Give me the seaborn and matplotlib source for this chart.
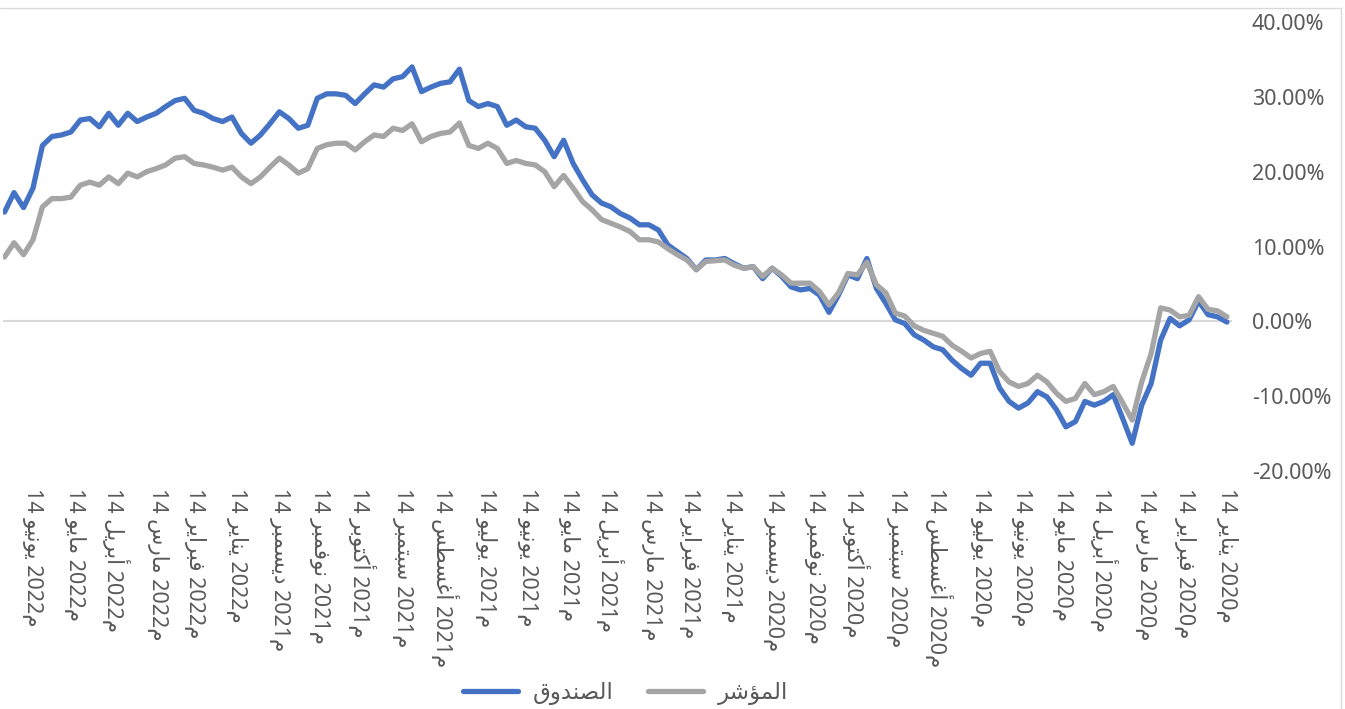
import matplotlib
matplotlib.use('Agg')
import matplotlib.pyplot as plt
from matplotlib.lines import Line2D
from matplotlib.ticker import FuncFormatter
import seaborn as sns
import pandas as pd

# weekly cumulative return (%), oldest first: 14 Jan 2020 -> early Jul 2022
fund = [-0.1, 0.6, 0.9, 2.7, 0.2, -0.6, 0.4, -2.5, -8.3, -11.2,
        -16.3, -13.0, -9.8, -10.7, -11.2, -10.7, -13.4, -14.1, -11.8, -10.1,
        -9.4, -10.9, -11.6, -10.7, -8.9, -5.6, -5.6, -7.2, -6.3, -5.2,
        -3.8, -3.4, -2.5, -1.8, -0.3, 0.2, 2.4, 4.4, 8.4, 5.7,
        6.2, 3.5, 1.2, 3.5, 4.4, 4.2, 4.6, 6.0, 7.1, 5.7,
        7.3, 7.1, 7.7, 8.4, 8.2, 8.2, 6.9, 8.4, 9.3, 10.2,
        12.2, 12.9, 12.9, 13.8, 14.4, 15.3, 15.8, 16.9, 18.9, 21.1,
        24.2, 22.0, 24.2, 25.8, 26.0, 26.9, 26.2, 28.7, 29.1, 28.7,
        29.5, 33.7, 32.0, 31.8, 31.3, 30.7, 34.0, 32.7, 32.4, 31.3,
        31.6, 30.4, 29.1, 30.2, 30.4, 30.4, 29.8, 26.2, 25.8, 27.1,
        28.0, 26.4, 24.9, 23.8, 25.1, 27.3, 26.7, 27.1, 27.8, 28.2,
        29.8, 29.5, 28.7, 27.8, 27.3, 26.7, 27.8, 26.2, 27.8, 26.0,
        27.1, 26.9, 25.3, 24.9, 24.7, 23.5, 17.8, 15.2, 17.2, 14.6]

index = [0.6, 1.4, 1.6, 3.3, 0.8, 0.6, 1.5, 1.8, -4.3, -8.1,
         -13.2, -10.9, -8.7, -9.4, -9.8, -8.3, -10.3, -10.7, -9.6, -8.1,
         -7.2, -8.3, -8.7, -8.1, -6.7, -4.0, -4.3, -4.9, -4.0, -3.2,
         -2.0, -1.6, -1.2, -0.6, 0.7, 1.1, 3.8, 4.9, 7.9, 6.2,
         6.4, 3.8, 2.2, 4.0, 5.1, 5.1, 5.1, 6.2, 7.1, 6.0,
         7.3, 7.1, 7.5, 8.2, 8.1, 8.0, 6.9, 8.2, 8.9, 9.7,
         10.6, 10.9, 10.9, 12.0, 12.6, 13.1, 13.6, 14.9, 16.0, 17.8,
         19.5, 18.0, 20.0, 20.9, 21.1, 21.5, 21.1, 23.1, 23.8, 23.1,
         23.5, 26.5, 25.3, 25.1, 24.7, 24.0, 26.4, 25.5, 25.8, 24.7,
         24.9, 24.0, 22.9, 23.8, 23.8, 23.6, 23.1, 20.4, 19.8, 20.9,
         21.8, 20.6, 19.3, 18.4, 19.3, 20.6, 20.2, 20.6, 20.9, 21.1,
         22.0, 21.8, 20.9, 20.4, 20.0, 19.3, 19.8, 18.4, 19.3, 18.2,
         18.6, 18.2, 16.6, 16.4, 16.4, 15.3, 10.9, 8.9, 10.5, 8.6]

series_names = ['الصندوق', 'المؤشر']
series_colors = ['#4472C4', '#A5A5A5']
month_names = ['يناير', 'فبراير', 'مارس', 'أبريل', 'مايو', 'يونيو',
               'يوليو', 'أغسطس', 'سبتمبر', 'أكتوبر', 'نوفمبر', 'ديسمبر']
era_suffix = 'م'
y_ticks = [-20, -10, 0, 10, 20, 30, 40]

# isolated, final, initial, medial presentation forms
FORMS = {
    'ا': 'ﺍﺎ', 'أ': 'ﺃﺄ', 'ؤ': 'ﺅﺆ', 'د': 'ﺩﺪ', 'ر': 'ﺭﺮ', 'و': 'ﻭﻮ',
    'ب': 'ﺏﺐﺑﺒ', 'ت': 'ﺕﺖﺗﺘ', 'س': 'ﺱﺲﺳﺴ', 'ش': 'ﺵﺶﺷﺸ',
    'ص': 'ﺹﺺﺻﺼ', 'ط': 'ﻁﻂﻃﻄ', 'غ': 'ﻍﻎﻏﻐ', 'ف': 'ﻑﻒﻓﻔ',
    'ق': 'ﻕﻖﻗﻘ', 'ك': 'ﻙﻚﻛﻜ', 'ل': 'ﻝﻞﻟﻠ', 'م': 'ﻡﻢﻣﻤ',
    'ن': 'ﻥﻦﻧﻨ', 'ي': 'ﻱﻲﻳﻴ',
}


def ar(word):
    # matplotlib has no arabic shaping, so do it by hand and reverse for display
    out = []
    for i, c in enumerate(word):
        f = FORMS[c]
        prev_joins = i > 0 and len(FORMS[word[i - 1]]) == 4
        next_joins = len(f) == 4 and i < len(word) - 1
        if prev_joins and next_joins:
            out.append(f[3])
        elif prev_joins:
            out.append(f[1])
        elif next_joins:
            out.append(f[2])
        else:
            out.append(f[0])
    return ''.join(reversed(out))


dates = pd.date_range('2020-01-14', periods=len(fund), freq='7D')
df = pd.DataFrame({'date': list(dates) * 2,
                   'value': fund + index,
                   'series': [ar(series_names[0])] * len(fund) + [ar(series_names[1])] * len(index)})

sns.set_theme(style='white')
plt.rcParams['font.family'] = ['Noto Sans', 'DejaVu Sans']

fig = plt.figure(figsize=(13.45, 7.09), dpi=100)
ax = fig.add_axes([3.2 / 1345, 238 / 709, 1229.2 / 1345, 449 / 709])

ax.axhline(0, color='#D9D9D9', lw=1.5, zorder=0)
sns.lineplot(data=df, x='date', y='value', hue='series',
             hue_order=[ar(n) for n in series_names], palette=series_colors,
             lw=3.8, ax=ax, solid_joinstyle='round', solid_capstyle='round')

ax.set_xlim(pd.Timestamp('2022-07-06'), pd.Timestamp('2020-01-10'))
ax.set_ylim(-20, 40)
for s in ax.spines.values():
    s.set_visible(False)
ax.grid(False)
ax.set_xlabel('')
ax.set_ylabel('')

ax.yaxis.tick_right()
ax.set_yticks(y_ticks)
ax.yaxis.set_major_formatter(FuncFormatter(lambda v, p: '{:.2f}%'.format(v)))
ax.tick_params(axis='y', length=0, pad=14, labelsize=15.5, labelcolor='#595959')

tick_dates = pd.date_range('2020-01-14', '2022-06-14', freq=pd.DateOffset(months=1))
ax.set_xticks(tick_dates)
ax.set_xticklabels(['14 {} {}{}'.format(ar(month_names[d.month - 1]), d.year, ar(era_suffix))
                    for d in tick_dates], rotation=-90, ha='center', va='top')
ax.tick_params(axis='x', length=0, pad=12, labelsize=15.5, labelcolor='#595959')

sns.move_legend(ax, 'center', bbox_to_anchor=(0.465, 0.022), bbox_transform=fig.transFigure,
                ncol=2, frameon=False, title=None, fontsize=16.5, handlelength=2.4,
                handletextpad=0.65, columnspacing=1.5)
for t in ax.get_legend().get_texts():
    t.set_color('#595959')

# chart border (top and right edges visible in the reference)
fig.add_artist(Line2D([0, 1341 / 1345], [1 - 8 / 709] * 2, transform=fig.transFigure, color='#D9D9D9', lw=1))
fig.add_artist(Line2D([1341 / 1345] * 2, [0, 1 - 8 / 709], transform=fig.transFigure, color='#D9D9D9', lw=1))

fig.savefig('out.png', dpi=100)
